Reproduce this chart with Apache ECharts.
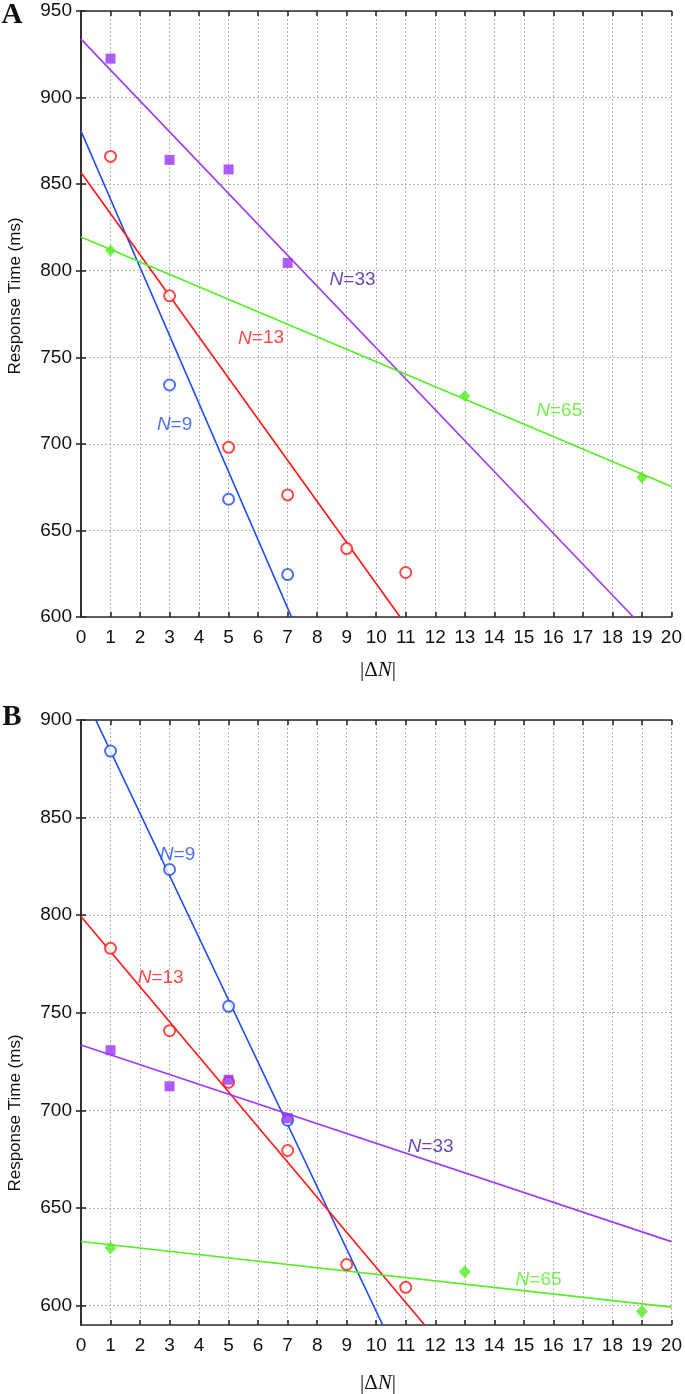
<!DOCTYPE html>
<html><head><meta charset="utf-8">
<script src="https://cdn.jsdelivr.net/npm/echarts@6/dist/echarts.min.js"></script>
<style>html,body{margin:0;padding:0;background:#fff}#c{width:685px;height:1394px}</style>
</head><body><div id="c"></div>
<script>
// ---------- tick values ----------
const yTicksA = [600, 650, 700, 750, 800, 850, 900, 950];
const yTicksB = [600, 650, 700, 750, 800, 850, 900];

// ---------- Panel A data ----------
const aN9Pts  = [[3, 734], [5, 668], [7, 624.5]];
const aN13Pts = [[1, 866], [3, 785.5], [5, 698], [7, 670.5], [9, 639.5], [11, 625.7]];
const aN33Pts = [[1, 922.5], [3, 864], [5, 858.5], [7, 804.5]];
const aN65Pts = [[1, 811.7], [13, 727.7], [19, 680.6]];
// fitted lines (endpoints)
const aN9Line  = [[0, 880.7], [7.13, 600]];
const aN13Line = [[0, 856.7], [10.81, 600]];
const aN33Line = [[0, 933.8], [18.71, 600]];
const aN65Line = [[0, 819.5], [20, 675.4]];
// label anchors
const aLabels = [[3.17, 711, 'N9'], [6.1, 761, 'N13'], [9.2, 795, 'N33'], [16.2, 719, 'N65']];

// ---------- Panel B data ----------
const bN9Pts  = [[1, 884.1], [3, 823.4], [5, 753.3], [7, 694.9]];
const bN13Pts = [[1, 783], [3, 740.8], [5, 714.4], [7, 679.4], [9, 621], [11, 609.3]];
const bN33Pts = [[1, 730.8], [3, 712.3], [5, 715.7], [7, 696]];
const bN65Pts = [[1, 629.6], [13, 617.3], [19, 596.9]];
const bN9Line  = [[0.5, 900], [10.22, 590]];
const bN13Line = [[0, 799.3], [11.64, 590]];
const bN33Line = [[0, 733.5], [20, 632.7]];
const bN65Line = [[0, 632.8], [20, 599.2]];
const bLabels = [[3.27, 831, 'N9'], [2.7, 768, 'N13'], [11.84, 681.5, 'N33'], [15.5, 613.4, 'N65']];

const labelText = {N9: '=9', N13: '=13', N33: '=33', N65: '=65'};
const C = {
  N9: '#1f4fee', N13: '#ff1a1a', N33: '#a03cf0', N65: '#55ee22',
  N33txt: '#43189a', sq: '#9a33f5'
};
const FONT = "'Liberation Sans', Arial, sans-serif";

function axesFor(gi, yMin, yMax, yTicks) {
  const line = {show: true, lineStyle: {color: '#2a2a2a', width: 1.6}};
  const grid = {show: true, lineStyle: {color: '#b5b5b5', width: 1, type: [2, 2]}};
  const tick = {show: true, inside: true, length: 5, lineStyle: {color: '#2a2a2a', width: 1.6}};
  const x = [
    {type: 'value', gridIndex: gi, min: 0, max: 20, interval: 1, position: 'bottom',
      axisLine: line, axisTick: tick,
      axisLabel: {fontSize: 19, color: '#111', fontFamily: FONT, margin: 11},
      splitLine: grid},
    {type: 'value', gridIndex: gi, min: 0, max: 20, interval: 1, position: 'top',
      axisLine: line, axisTick: tick,
      axisLabel: {show: false}, splitLine: {show: false}}
  ];
  const y = [
    {type: 'value', gridIndex: gi, min: yMin, max: yMax, position: 'left',
      axisLine: line, axisTick: Object.assign({customValues: yTicks}, tick),
      axisLabel: {fontSize: 19, color: '#111', fontFamily: FONT, margin: 9, customValues: yTicks},
      splitLine: grid},
    {type: 'value', gridIndex: gi, min: yMin, max: yMax, position: 'right',
      axisLine: line, axisTick: Object.assign({customValues: yTicks}, tick),
      axisLabel: {show: false}, splitLine: {show: false}}
  ];
  return {x, y};
}

const axA = axesFor(0, 600, 950, yTicksA);
const axB = axesFor(1, 590, 900, yTicksB);

function lineSeries(data, color, xi, yi) {
  return {type: 'line', data, xAxisIndex: xi, yAxisIndex: yi, showSymbol: false, symbol: 'none',
    lineStyle: {color, width: 1.7}, z: 2, silent: true, animation: false};
}
function ptSeries(data, symbol, size, color, xi, yi, bw) {
  const isEmpty = symbol === 'emptyCircle';
  return {type: 'scatter', data, xAxisIndex: xi, yAxisIndex: yi, symbol, symbolSize: size,
    itemStyle: isEmpty ? {color: color, borderColor: color, borderWidth: bw} : {color: color},
    z: 3, animation: false};
}
function labelSeries(arr, xi, yi) {
  return {type: 'scatter', xAxisIndex: xi, yAxisIndex: yi, symbolSize: 0, z: 4, animation: false,
    data: arr.map(d => ({value: [d[0], d[1]],
      label: {show: true, position: 'inside', fontSize: 19, fontFamily: FONT,
        color: d[2] === 'N33' ? C.N33txt : C[d[2]],
        formatter: '{i|N}' + labelText[d[2]],
        rich: {i: {fontStyle: 'italic', fontSize: 19, fontFamily: FONT,
          color: d[2] === 'N33' ? C.N33txt : C[d[2]]}}}}))};
}

const series = [
  // Panel A (x axes 0/1, y axes 0/1)
  lineSeries(aN9Line, C.N9, 0, 0),
  lineSeries(aN13Line, C.N13, 0, 0),
  lineSeries(aN33Line, C.N33, 0, 0),
  lineSeries(aN65Line, C.N65, 0, 0),
  ptSeries(aN9Pts, 'emptyCircle', 11, C.N9, 0, 0, 1.3),
  ptSeries(aN13Pts, 'emptyCircle', 11, C.N13, 0, 0, 1.3),
  ptSeries(aN33Pts, 'rect', 10, C.sq, 0, 0),
  ptSeries(aN65Pts, 'diamond', [11, 12], C.N65, 0, 0),
  labelSeries(aLabels, 0, 0),
  // Panel B (x axes 2/3, y axes 2/3)
  lineSeries(bN9Line, C.N9, 2, 2),
  lineSeries(bN13Line, C.N13, 2, 2),
  lineSeries(bN33Line, C.N33, 2, 2),
  lineSeries(bN65Line, C.N65, 2, 2),
  ptSeries(bN9Pts, 'emptyCircle', 11, C.N9, 2, 2, 2),
  ptSeries(bN13Pts, 'emptyCircle', 11, C.N13, 2, 2, 2),
  ptSeries(bN33Pts, 'rect', 10, C.sq, 2, 2),
  ptSeries(bN65Pts, 'diamond', [12, 13], C.N65, 2, 2),
  labelSeries(bLabels, 2, 2)
];

const xNameStyle = {
  rich: {
    a: {fontFamily: "'Liberation Serif', 'Times New Roman', serif", fontSize: 21, fill: '#111'},
    i: {fontFamily: "'Liberation Serif', 'Times New Roman', serif", fontSize: 21, fontStyle: 'italic', fill: '#111'}
  }
};
function textEl(x, y, text, opts) {
  return Object.assign({type: 'text', x, y, silent: true,
    style: Object.assign({text, fill: '#111', align: 'center', verticalAlign: 'middle'}, opts.style || {})},
    opts.el || {});
}

const chart = echarts.init(document.getElementById('c'), null, {renderer: 'canvas'});
chart.setOption({
  animation: false,
  backgroundColor: '#fff',
  grid: [
    {left: 81, top: 11, width: 593, height: 606},
    {left: 81, top: 720, width: 593, height: 605}
  ],
  xAxis: [...axA.x, ...axB.x],
  yAxis: [...axA.y, ...axB.y],
  series,
  graphic: [
    textEl(12, 16, 'A', {style: {font: "bold 29px 'Liberation Serif', serif"}}),
    textEl(12, 718, 'B', {style: {font: "bold 29px 'Liberation Serif', serif"}}),
    textEl(15, 296, 'Response Time (ms)', {style: {font: "17px 'Liberation Sans', Arial, sans-serif"}, el: {rotation: Math.PI / 2}}),
    textEl(15, 1113, 'Response Time (ms)', {style: {font: "17px 'Liberation Sans', Arial, sans-serif"}, el: {rotation: Math.PI / 2}}),
    textEl(378, 670, '{a||Δ}{i|N}{a||}', {style: xNameStyle}),
    textEl(378, 1383, '{a||Δ}{i|N}{a||}', {style: xNameStyle})
  ]
});
</script></body></html>
